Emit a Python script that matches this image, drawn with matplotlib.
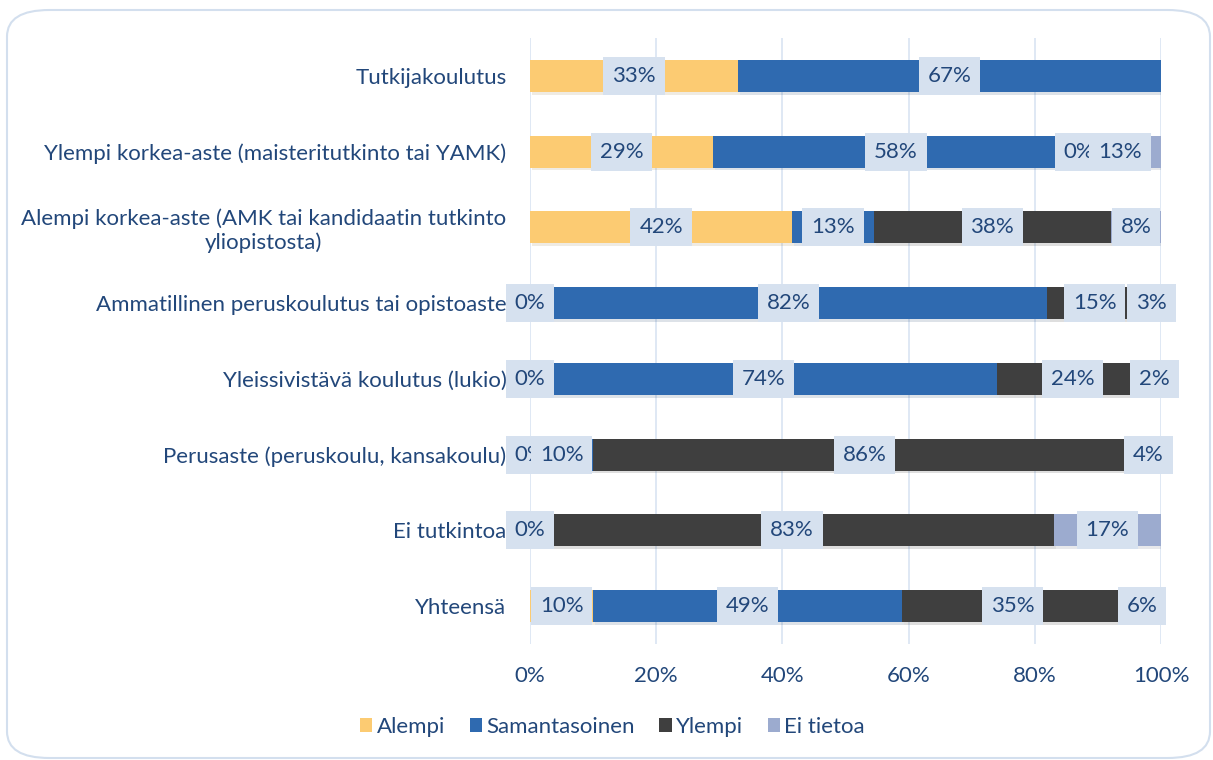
import numpy as np
import matplotlib.pyplot as plt
from matplotlib.patches import Patch, FancyBboxPatch
import matplotlib.patheffects as pe

plt.rcParams['font.family'] = ['Lato', 'DejaVu Sans']

categories = [
    "Tutkijakoulutus",
    "Ylempi korkea-aste (maisteritutkinto tai YAMK)",
    "Alempi korkea-aste (AMK tai kandidaatin tutkinto\nyliopistosta)",
    "Ammatillinen peruskoulutus tai opistoaste",
    "Yleissivistävä koulutus (lukio)",
    "Perusaste (peruskoulu, kansakoulu)",
    "Ei tutkintoa",
    "Yhteensä",
]
series_names = ["Alempi", "Samantasoinen", "Ylempi", "Ei tietoa"]
nan = np.nan
alempi = [33, 29, 42, 0, 0, 0, 0, 10]
samantasoinen = [67, 58, 13, 82, 74, 10, nan, 49]
ylempi = [nan, 0, 38, 15, 24, 86, 83, 35]
ei_tietoa = [nan, 13, 8, 3, 2, 4, 17, 6]
x_ticks = [0, 20, 40, 60, 80, 100]

colors = ["#FCCB72", "#2F6AB0", "#3F3F3F", "#9CABCF"]
text_color = "#22477A"
fs = 16

data = np.array([alempi, samantasoinen, ylempi, ei_tietoa], dtype=float)
row_sums = np.nansum(data, axis=0)
shares = np.nan_to_num(data) / row_sums * 100

fig = plt.figure(figsize=(12.13, 7.6), dpi=100)
fig.patches.append(FancyBboxPatch((7 / 1213, 2 / 760), 1203 / 1213, 748 / 760,
                                  boxstyle="round,pad=0,rounding_size=0.035",
                                  transform=fig.transFigure, facecolor="white",
                                  edgecolor="#D3DFEE", linewidth=1.5, zorder=-1))

ax = fig.add_axes([530 / 1213, 1 - 644 / 760, 631 / 1213, (644 - 38) / 760])
ax.set_facecolor("none")

y = np.arange(len(categories))
left = np.zeros(len(categories))
shadow = [pe.SimplePatchShadow(offset=(1.5, -2), alpha=0.15, rho=0.6), pe.Normal()]
for i, name in enumerate(series_names):
    bars = ax.barh(y, shares[i], left=left, height=0.42, color=colors[i], label=name, zorder=2)
    for b in bars:
        b.set_path_effects(shadow)
    for j in range(len(categories)):
        if not np.isnan(data[i, j]):
            ax.text(left[j] + shares[i, j] / 2, y[j], f"{int(data[i, j])}%",
                    ha="center", va="center", fontsize=fs, color=text_color, zorder=3 + i,
                    bbox=dict(boxstyle="square,pad=0.4", facecolor="#D6E1EF", edgecolor="none"))
    left += shares[i]

ax.set_xlim(0, 100)
ax.set_ylim(len(categories) - 0.5, -0.5)
ax.set_xticks(x_ticks)
ax.set_xticklabels([f"{t}%" for t in x_ticks])
ax.set_yticks(y)
ax.set_yticklabels(categories, multialignment="center")
ax.tick_params(axis="both", length=0, labelsize=fs, labelcolor=text_color)
ax.tick_params(axis="x", pad=16)
ax.tick_params(axis="y", pad=17)
ax.grid(axis="x", color="#D9E4F2", linewidth=1.2, zorder=0)
ax.set_axisbelow(True)
for s in ax.spines.values():
    s.set_visible(False)

handles = [Patch(facecolor=c, edgecolor="none") for c in colors]
fig.legend(handles, series_names, loc="center", bbox_to_anchor=(0.505, 1 - 727 / 760), ncol=4,
           frameon=False, fontsize=fs, labelcolor=text_color, handlelength=0.55, handleheight=0.55,
           handletextpad=0.2, columnspacing=1.1)

fig.savefig("out.png", dpi=100)
